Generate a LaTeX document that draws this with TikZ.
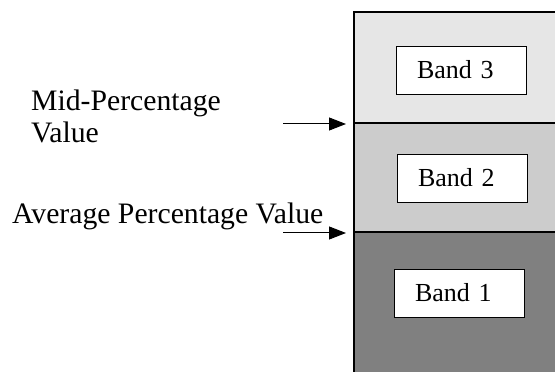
\documentclass[tikz,border=0pt]{standalone}
\usepackage{fontspec}
\setmainfont{Liberation Serif}
\usetikzlibrary{arrows.meta}
\definecolor{bandlight}{HTML}{E6E6E6}
\definecolor{bandmid}{HTML}{CCCCCC}
\definecolor{banddark}{HTML}{808080}
\tikzset{
  region/.style={draw=black, line width=1.1pt},
  bandbox/.style={draw=black, fill=white, line width=0.8pt, minimum height=48pt,
    text width=130pt, inner xsep=0pt, align=left, font=\fontsize{26}{28}\selectfont},
  lbl/.style={anchor=base west, inner sep=0pt, align=left, font=\fontsize{29.7}{32}\selectfont},
  pointer/.style={-{Triangle[length=17pt,width=13pt]}, line width=1pt}
}
\begin{document}
\begin{tikzpicture}[x=1pt,y=1pt]
\useasboundingbox (0,0) rectangle (555,372);
\path[region, fill=bandlight] (354,249) rectangle (570,360);
\path[region, fill=bandmid] (354,140) rectangle (570,249);
\path[region, fill=banddark] (354,-10) rectangle (570,140);
\coordinate (midedge) at (346,248);
\coordinate (avgedge) at (346,139);
\coordinate (midtail) at (283,248);
\coordinate (avgtail) at (283,139);
\node[bandbox] (b3) at (461,302) {\hspace*{21pt}Band 3};
\node[bandbox] (b2) at (462,194) {\hspace*{21pt}Band 2};
\node[bandbox] (b1) at (459,79) {\hspace*{21pt}Band 1};
\node[lbl] (midlbl) at (31,229) {Mid-Percentage\\Value};
\node[lbl] (avglbl) at (12,148) {Average Percentage Value};
\draw[pointer] (midtail) -- (midedge);
\draw[pointer] (avgtail) -- (avgedge);
\end{tikzpicture}
\end{document}
